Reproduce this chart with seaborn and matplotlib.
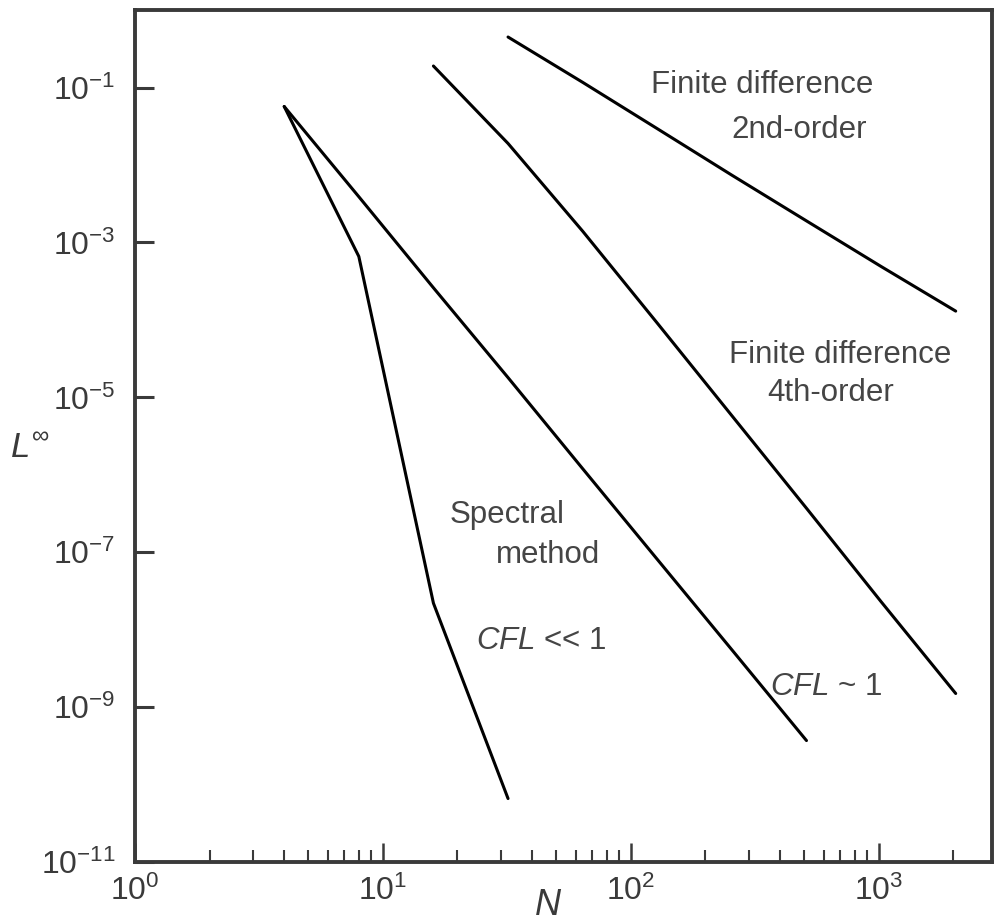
import pandas as pd
import matplotlib
matplotlib.use("Agg")
import matplotlib.pyplot as plt
import matplotlib.ticker as mticker
import seaborn as sns

# ── Data ────────────────────────────────────────────────────────────────────

N_SPEC_SMALL = [4, 8, 16, 32]
ERR_SPEC_SMALL = [5.7e-2, 6.6e-4, 2.2e-8, 6.6e-11]

N_SPEC_CFL1 = [4, 8, 16, 32, 64, 128, 256, 512]
ERR_SPEC_CFL1 = [5.7e-2, 3.9e-3, 2.6e-4, 1.8e-5, 1.2e-6, 8.1e-8, 5.5e-9, 3.7e-10]

N_FD4 = [16, 32, 64, 128, 256, 512, 1024, 2048]
ERR_FD4 = [1.9e-1, 1.9e-2, 1.4e-3, 9.1e-5, 5.8e-6, 3.7e-7, 2.3e-8, 1.5e-9]

N_FD2 = [32, 64, 128, 256, 512, 1024, 2048]
ERR_FD2 = [4.5e-1, 1.17e-1, 2.95e-2, 7.4e-3, 1.9e-3, 4.9e-4, 1.3e-4]

X_TICKS = [1, 10, 100, 1000]
X_TICK_LABELS = [r"$10^{0}$", r"$10^{1}$", r"$10^{2}$", r"$10^{3}$"]
Y_TICKS = [1e-1, 1e-3, 1e-5, 1e-7, 1e-9, 1e-11]
Y_TICK_LABELS = [r"$10^{-1}$", r"$10^{-3}$", r"$10^{-5}$", r"$10^{-7}$",
                 r"$10^{-9}$", r"$10^{-11}$"]

series = {
    "spectral_cfl_small": (N_SPEC_SMALL, ERR_SPEC_SMALL),
    "spectral_cfl_1": (N_SPEC_CFL1, ERR_SPEC_CFL1),
    "fd4": (N_FD4, ERR_FD4),
    "fd2": (N_FD2, ERR_FD2),
}
df = pd.concat(
    [pd.DataFrame({"N": n, "err": e, "method": k}) for k, (n, e) in series.items()],
    ignore_index=True,
)

# ── Style ───────────────────────────────────────────────────────────────────

sns.set_style("ticks")
plt.rcParams["font.family"] = ["Liberation Sans", "DejaVu Sans"]
plt.rcParams["mathtext.fontset"] = "custom"
plt.rcParams["mathtext.rm"] = "Liberation Sans"
plt.rcParams["mathtext.it"] = "Liberation Sans:italic"
plt.rcParams["lines.solid_joinstyle"] = "round"
plt.rcParams["lines.solid_capstyle"] = "round"

SPINE = "#3a3a3a"
TEXT = "#3a3a3a"
ANN = "#454545"

fig = plt.figure(figsize=(9.97, 9.24), dpi=100)
ax = fig.add_axes([0.1354, 0.0671, 0.8596, 0.9219])

sns.lineplot(
    data=df, x="N", y="err", hue="method", units="method", estimator=None,
    palette=["black"] * 4, linewidth=2.2, legend=False, ax=ax,
)

ax.set_xscale("log")
ax.set_yscale("log")
ax.set_xlim(1, 2870)
ax.set_ylim(1e-11, 1.0)

ax.xaxis.set_major_locator(mticker.FixedLocator(X_TICKS))
ax.xaxis.set_major_formatter(mticker.FixedFormatter(X_TICK_LABELS))
ax.xaxis.set_minor_locator(mticker.LogLocator(base=10, subs=range(2, 10), numticks=20))
ax.xaxis.set_minor_formatter(mticker.NullFormatter())
ax.yaxis.set_major_locator(mticker.FixedLocator(Y_TICKS))
ax.yaxis.set_major_formatter(mticker.FixedFormatter(Y_TICK_LABELS))
ax.yaxis.set_minor_locator(mticker.NullLocator())

for s in ax.spines.values():
    s.set_linewidth(2.8)
    s.set_color(SPINE)
    s.set_visible(True)

ax.tick_params(axis="both", which="major", direction="in", labelsize=23,
               colors=SPINE, labelcolor=TEXT)
ax.tick_params(axis="y", which="major", length=14, width=2.2, pad=14)
ax.tick_params(axis="x", which="major", length=14, width=1.8, pad=10)
ax.tick_params(axis="x", which="minor", direction="in", length=9, width=1.5,
               colors=SPINE)

ax.set_xlabel("$N$", fontsize=26, color=TEXT)
ax.xaxis.set_label_coords(0.482, -0.03)
ax.set_ylabel(r"$L^{\infty}$", fontsize=25, color=TEXT, rotation=0)
ax.yaxis.set_label_coords(-0.1225, 0.466)

# ── Annotations ─────────────────────────────────────────────────────────────

ann = dict(fontsize=22.5, color=ANN, ha="center", va="center")
ax.text(0.732, 0.912, "Finite difference", transform=ax.transAxes, **ann)
ax.text(0.775, 0.859, "2nd-order", transform=ax.transAxes, **ann)
ax.text(0.823, 0.595, "Finite difference", transform=ax.transAxes, **ann)
ax.text(0.812, 0.551, "4th-order", transform=ax.transAxes, **ann)
ax.text(0.434, 0.407, "Spectral", transform=ax.transAxes, **ann)
ax.text(0.482, 0.360, "method", transform=ax.transAxes, **ann)
ax.text(0.474, 0.259, r"$CFL$ << 1", transform=ax.transAxes, **ann)
ax.text(0.807, 0.206, r"$CFL$ ~ 1", transform=ax.transAxes, **ann)

fig.savefig("out.png", dpi=100)
